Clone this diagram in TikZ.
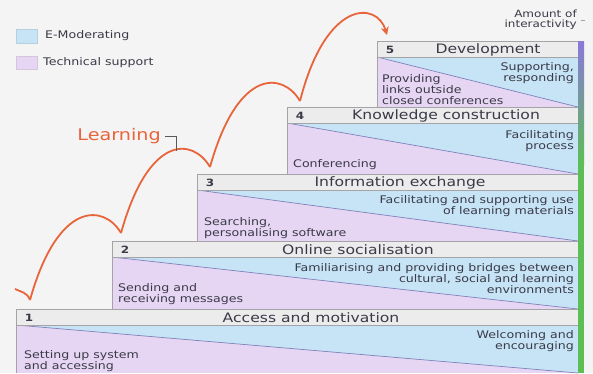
\documentclass[tikz,border=0pt]{standalone}
\usepackage{fontspec}
\setmainfont{DejaVu Sans}[FakeStretch=1.2]
\usetikzlibrary{arrows.meta}

\definecolor{bg}{HTML}{F4F4F4}
\definecolor{emod}{HTML}{C6E4F6}
\definecolor{tech}{HTML}{E6D6F3}
\definecolor{headfill}{HTML}{ECECEC}
\definecolor{edge}{HTML}{A4A4A8}
\definecolor{split}{HTML}{8082BA}
\definecolor{arcol}{HTML}{E8643A}
\definecolor{ink}{HTML}{3A3A48}
\definecolor{topbar}{HTML}{8B78DA}
\definecolor{lowbar}{HTML}{5CBE54}

\tikzset{
  headtext/.style={font=\fontsize{13}{15}\selectfont, text=ink, inner sep=0pt},
  numtext/.style={font=\bfseries\fontsize{10}{12}\selectfont, text=ink, inner sep=0pt},
  righttext/.style={font=\fontsize{10.5}{11}\selectfont, text=ink, inner sep=0pt, align=right, anchor=north east},
  lefttext/.style={font=\fontsize{10.5}{11}\selectfont, text=ink, inner sep=0pt, align=left, anchor=north west},
  legendtext/.style={font=\fontsize{10.5}{12}\selectfont, text=ink, inner sep=0pt, anchor=west},
  bounce/.style={draw=arcol, line width=1.8pt},
}

% one stage of the staircase: #1 left x, #2 header top y, #3 body bottom y,
% #4 number, #5 title, #6 title centre x
\newcommand\drawstage[6]{%
  \fill[tech] (#1,#2+16) rectangle (578,#3);
  \fill[emod] (#1,#2+16) -- (578,#2+16) -- (578,#3) -- cycle;
  \draw[split, line width=0.7pt] (#1,#2+16) -- (578,#3);
  \draw[edge, line width=0.6pt] (#1,#3) -- (#1,#2+16);
  \draw[edge, fill=headfill, line width=0.8pt] (#1,#2) rectangle (578,#2+16);
  \node[numtext] (n#4) at (#1+13,#2+8.5) {#4};
  \node[headtext] (h#4) at (#6,#2+8.5) {#5};
}

\begin{document}
\begin{tikzpicture}[x=1pt, y=-1pt]
\useasboundingbox (0,0) rectangle (593,373);
\fill[bg] (0,0) rectangle (593,373);

% legend
\draw[emod!80!gray, fill=emod] (16,29) rectangle (37,43);
\draw[tech!80!gray, fill=tech] (16,56) rectangle (37,69);
\node[legendtext] (lgA) at (45,36) {E-Moderating};
\node[legendtext] (lgB) at (43,62.5) {Technical support};

% staircase, top stage first
\drawstage{377}{41}{107}{5}{Development}{488}
\drawstage{287}{107}{174}{4}{Knowledge construction}{446}
\drawstage{197}{174}{241}{3}{Information exchange}{400}
\drawstage{112}{241}{309}{2}{Online socialisation}{358}
\drawstage{16}{309}{373}{1}{Access and motivation}{311}

% interactivity scale
\shade[top color=topbar, bottom color=lowbar] (578,41) rectangle (584,165);
\fill[lowbar] (578,165) rectangle (584,373);
\node[font=\fontsize{10}{9.5}\selectfont, text=ink, inner sep=0pt, align=right, anchor=north east]
  (amount) at (577,10) {Amount of\\interactivity};
\draw[edge] (581,20) -- (585,20);

% stage texts
\node[righttext] (r5) at (574,62) {Supporting,\\responding};
\node[lefttext]  (l5) at (382,74) {Providing\\links outside\\closed conferences};
\node[righttext] (r4) at (574,130) {Facilitating\\process};
\node[lefttext]  (l4) at (293,159) {Conferencing};
\node[righttext] (r3) at (574,195) {Facilitating and supporting use\\of learning materials};
\node[lefttext]  (l3) at (204,217) {Searching,\\personalising software};
\node[righttext] (r2) at (574,263) {Familiarising and providing bridges between\\cultural, social and learning\\environments};
\node[lefttext]  (l2) at (118,283) {Sending and\\receiving messages};
\node[righttext] (r1) at (574,330) {Welcoming and\\encouraging};
\node[lefttext]  (l1) at (24,350) {Setting up system\\and accessing};

% bouncing learning path
\coordinate (c0) at (15,289);
\coordinate (c1) at (30,300);
\coordinate (c2) at (121,233);
\coordinate (c3) at (210,167);
\coordinate (c4) at (300,101);
\coordinate (c5) at (387,35);
\draw[bounce] (c0) .. controls +(6,3) and +(-3,-8) .. (c1);
\draw[bounce] (c1) .. controls +(28,-100) and +(-17,-29) .. (c2);
\draw[bounce] (c2) .. controls +(28,-100) and +(-17,-29) .. (c3);
\draw[bounce] (c3) .. controls +(28,-100) and +(-17,-29) .. (c4);
\draw[bounce, -{Stealth[length=8pt, width=8pt]}] (c4) .. controls +(26,-102) and +(-10,-34) .. (c5);

% label
\node[font=\fontsize{16}{18}\selectfont, text=arcol, inner sep=0pt, anchor=east]
  (learn) at (161,136) {Learning};
\coordinate (lk) at (176,151);
\draw[black!65, line width=0.8pt] (learn.east) ++(4,0) -| (lk);
\end{tikzpicture}
\end{document}
